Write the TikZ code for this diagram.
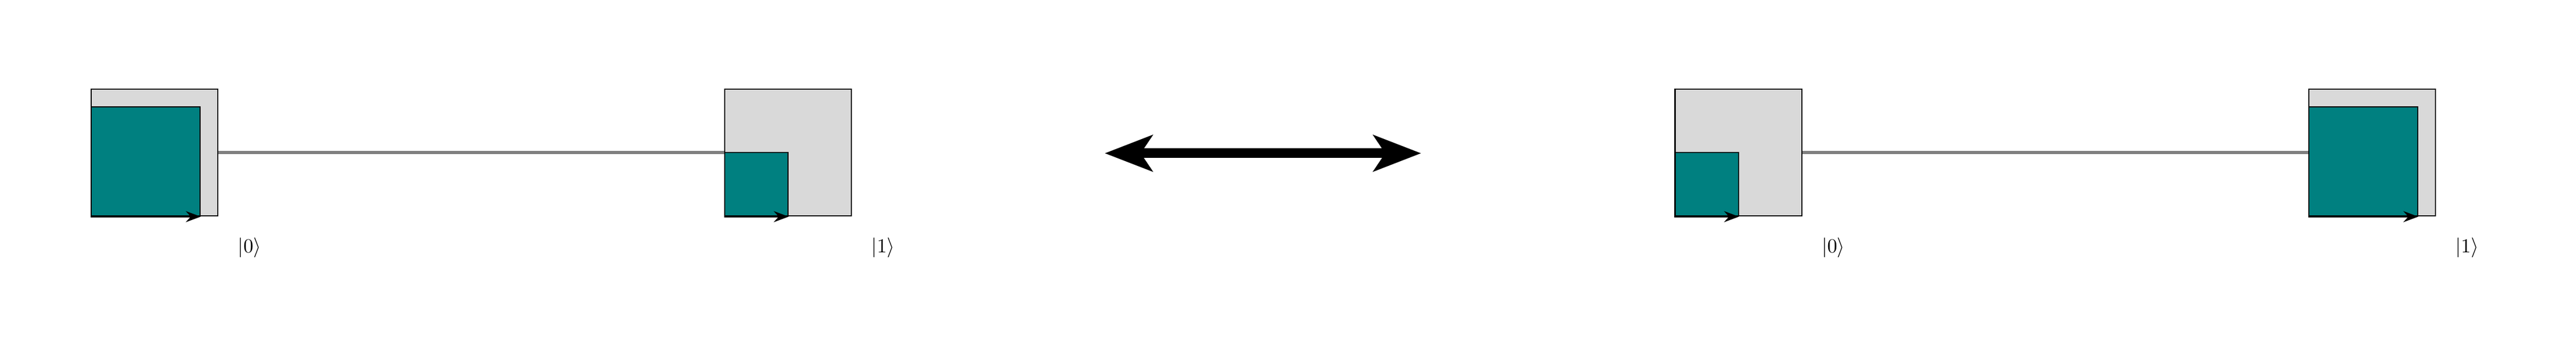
\documentclass[tikz,border=0pt]{standalone}
\usetikzlibrary{arrows.meta}
\begin{document}
\begin{tikzpicture}[
    qbox/.style={draw, fill=gray!30, line width=0.6pt, inner sep=0pt, minimum size=2.246cm, anchor=south west},
    amp/.style={draw, fill=teal, line width=0.6pt, inner sep=0pt, minimum size=#1, anchor=south west},
    wire/.style={gray, line width=1.6pt},
    base/.style={line width=1pt, -{Stealth[length=7.5pt,width=5.5pt]}},
    bigtip/.tip={Stealth[length=0.842cm,width=0.635cm,inset=0.205cm]}]
    \useasboundingbox (0,0) rectangle (45.69,6.30);
    \node[qbox] (boxA) at (1.608,2.461) {};
    \node[qbox] (boxB) at (12.845,2.461) {};
    \node[qbox] (boxC) at (29.70,2.461) {};
    \node[qbox] (boxD) at (40.94,2.461) {};
    \node[amp=1.932cm] (ampA) at (boxA.south west) {};
    \node[amp=1.123cm] (ampB) at (boxB.south west) {};
    \node[amp=1.123cm] (ampC) at (boxC.south west) {};
    \node[amp=1.932cm] (ampD) at (boxD.south west) {};
    \draw[base] (ampA.south west) -- (ampA.south east);
    \draw[base] (ampB.south west) -- (ampB.south east);
    \draw[base] (ampC.south west) -- (ampC.south east);
    \draw[base] (ampD.south west) -- (ampD.south east);
    \draw[wire] (boxA.east) -- (boxB.west);
    \draw[wire] (boxC.east) -- (boxD.west);
    \node (ketA) at ([shift={(0.55,-0.55)}]boxA.south east) {$|0\rangle$};
    \node (ketB) at ([shift={(0.55,-0.55)}]boxB.south east) {$|1\rangle$};
    \node (ketC) at ([shift={(0.55,-0.55)}]boxC.south east) {$|0\rangle$};
    \node (ketD) at ([shift={(0.55,-0.55)}]boxD.south east) {$|1\rangle$};
    \coordinate (swapL) at (19.594,3.584);
    \coordinate (swapR) at (25.207,3.584);
    \draw[line width=4.9pt, bigtip-bigtip] (swapL) -- (swapR);
\end{tikzpicture}
\end{document}
